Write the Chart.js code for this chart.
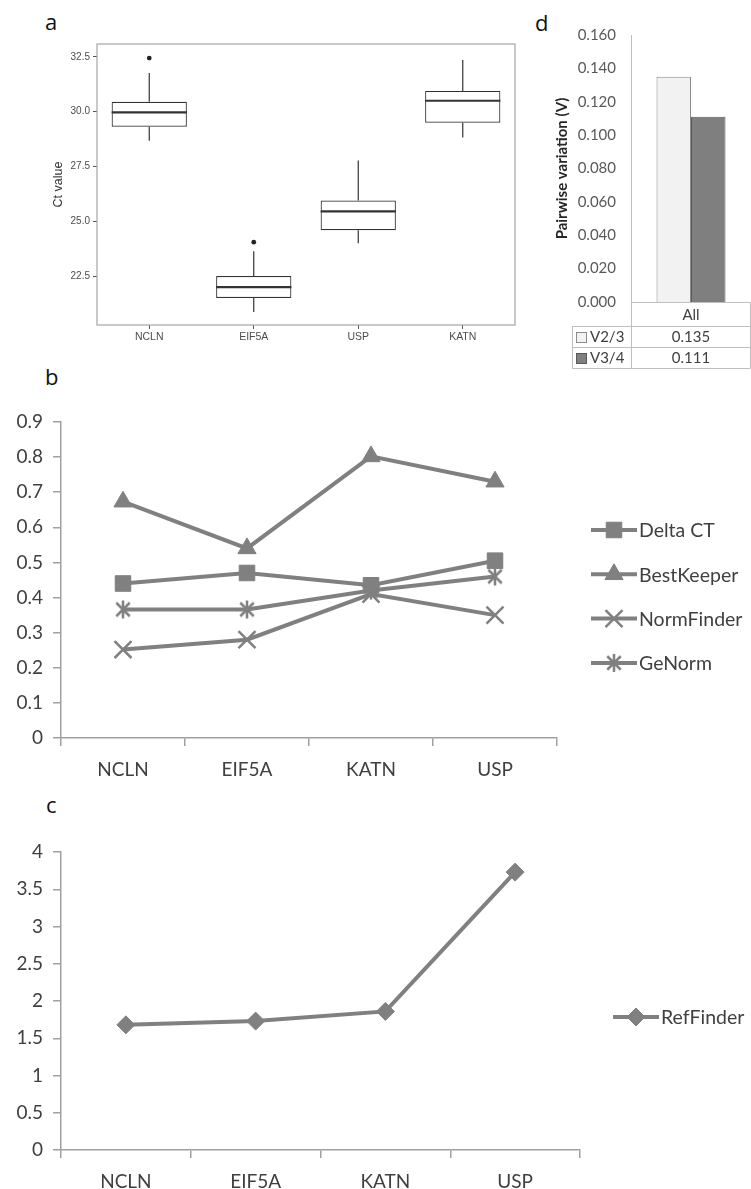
<!DOCTYPE html>
<html>
<head>
<meta charset="utf-8">
<title>Reference gene stability</title>
<script src="https://cdn.jsdelivr.net/npm/chart.js@4.4.1/dist/chart.umd.min.js"></script>
<style>
  body { margin: 0; background: #fff; }
  #page { position: relative; width: 751px; height: 1189px; overflow: hidden; }
  #page canvas { position: absolute; }
  .tag { position: absolute; font-family: 'Open Sans', sans-serif; font-size: 22px; line-height: 22px; color: #111; }
</style>
</head>
<body>
<div id="page">
  <div class="tag" style="left:45px; top:10px;">a</div>
  <div class="tag" style="left:535px; top:11px;">d</div>
  <div class="tag" style="left:45px; top:365px;">b</div>
  <div class="tag" style="left:46px; top:793px;">c</div>
  <canvas id="boxChart" width="500" height="325" style="left:30px; top:30px; width:500px; height:325px;"></canvas>
  <canvas id="pairChart" width="231" height="380" style="left:520px; top:0px; width:231px; height:380px;"></canvas>
  <canvas id="rankChart" width="751" height="410" style="left:0px; top:380px; width:751px; height:410px;"></canvas>
  <canvas id="refChart" width="751" height="399" style="left:0px; top:790px; width:751px; height:399px;"></canvas>
</div>
<script>
// panel a - Ct values (box plot)
var boxCategories = ['NCLN', 'EIF5A', 'USP', 'KATN'];
var boxMin = [28.68, 20.86, 24.0, 28.82];
var boxQ1 = [29.32, 21.5, 24.59, 29.5];
var boxMedian = [29.97, 22.0, 25.45, 30.5];
var boxQ3 = [30.45, 22.5, 25.95, 30.95];
var boxMax = [31.77, 23.64, 27.77, 32.36];
var boxOutliers = [32.45, 24.05, null, null];
var ctTicks = [22.5, 25.0, 27.5, 30.0, 32.5];

// panel d - pairwise variation
var pairCategories = ['All'];
var v23 = [0.135];
var v34 = [0.111];

// panel b - stability values per method
var genes = ['NCLN', 'EIF5A', 'KATN', 'USP'];
var deltaCT = [0.44, 0.47, 0.435, 0.505];
var bestKeeper = [0.673, 0.54, 0.802, 0.73];
var normFinder = [0.252, 0.28, 0.41, 0.35];
var geNorm = [0.366, 0.366, 0.42, 0.46];

// panel c - RefFinder comprehensive ranking
var refFinder = [1.68, 1.73, 1.86, 3.73];

var grey = '#808080';
var axisGrey = '#a0a0a0';
var textGrey = '#404040';
var officeFont = 'Lato, "Open Sans", sans-serif';

Chart.defaults.animation = false;
Chart.defaults.responsive = false;
Chart.defaults.devicePixelRatio = 1;

// asterisk marker (X with a vertical stroke) like the excel one
function asteriskMarker(size, color) {
  var c = document.createElement('canvas');
  c.width = size; c.height = size;
  var g = c.getContext('2d');
  var m = size / 2, r = size / 2 - 2;
  g.strokeStyle = color;
  g.lineWidth = 2.5;
  g.beginPath();
  g.moveTo(m - r * 0.75, m - r * 0.75); g.lineTo(m + r * 0.75, m + r * 0.75);
  g.moveTo(m + r * 0.75, m - r * 0.75); g.lineTo(m - r * 0.75, m + r * 0.75);
  g.moveTo(m, m - r); g.lineTo(m, m + r);
  g.stroke();
  return c;
}
var asterisk = asteriskMarker(22, grey);

function fmtTick(v) {
  return String(Math.round(v * 10) / 10);
}

// legend drawn like excel: a short line with the marker on it
function lineLegend(offsetX, offsetY, step) {
  return {
    id: 'lineLegend',
    afterDraw: function (chart) {
      var ctx = chart.ctx, area = chart.chartArea;
      var x0 = area.right + offsetX;
      chart.data.datasets.forEach(function (ds, i) {
        var y = area.top + offsetY + i * step;
        ctx.save();
        ctx.strokeStyle = ds.borderColor;
        ctx.lineWidth = ds.borderWidth;
        ctx.beginPath();
        ctx.moveTo(x0, y);
        ctx.lineTo(x0 + 46, y);
        ctx.stroke();
        ctx.fillStyle = ds.pointBackgroundColor;
        ctx.strokeStyle = ds.pointBorderColor;
        ctx.lineWidth = ds.pointBorderWidth;
        Chart.helpers.drawPoint(ctx, {
          pointStyle: ds.pointStyle,
          radius: ds.pointRadius,
          borderWidth: ds.pointBorderWidth,
          rotation: 0
        }, x0 + 23, y);
        ctx.fillStyle = textGrey;
        ctx.font = '19.5px ' + officeFont;
        ctx.textBaseline = 'middle';
        ctx.textAlign = 'left';
        ctx.fillText(ds.label, x0 + 48, y + 1);
        ctx.restore();
      });
    }
  };
}

//chart a
var boxParts = {
  id: 'boxParts',
  afterDatasetsDraw: function (chart) {
    var ctx = chart.ctx, xs = chart.scales.x, ys = chart.scales.y;
    var bars = chart.getDatasetMeta(0).data;
    ctx.save();
    ctx.strokeStyle = '#333';
    ctx.lineWidth = 1.2;
    boxCategories.forEach(function (c, i) {
      var x = xs.getPixelForValue(i);
      ctx.beginPath();
      ctx.moveTo(x, ys.getPixelForValue(boxQ3[i]));
      ctx.lineTo(x, ys.getPixelForValue(boxMax[i]));
      ctx.moveTo(x, ys.getPixelForValue(boxQ1[i]));
      ctx.lineTo(x, ys.getPixelForValue(boxMin[i]));
      ctx.stroke();
    });
    ctx.lineWidth = 2.2;
    boxCategories.forEach(function (c, i) {
      var half = bars[i].width / 2;
      var x = xs.getPixelForValue(i);
      var y = ys.getPixelForValue(boxMedian[i]);
      ctx.beginPath();
      ctx.moveTo(x - half, y);
      ctx.lineTo(x + half, y);
      ctx.stroke();
    });
    ctx.restore();
  },
  afterDraw: function (chart) {
    var a = chart.chartArea, ctx = chart.ctx;
    ctx.save();
    ctx.strokeStyle = '#a6a6a6';
    ctx.lineWidth = 1.2;
    ctx.strokeRect(a.left, a.top, a.right - a.left, a.bottom - a.top);
    ctx.restore();
  }
};

new Chart(document.getElementById('boxChart'), {
  type: 'bar',
  data: {
    labels: boxCategories,
    datasets: [{
      label: 'IQR',
      data: boxCategories.map(function (c, i) { return [boxQ1[i], boxQ3[i]]; }),
      backgroundColor: '#fff',
      borderColor: '#333',
      borderWidth: 1.2,
      borderSkipped: false,
      barPercentage: 0.72,
      categoryPercentage: 1
    }, {
      type: 'line',
      label: 'outliers',
      data: boxOutliers,
      showLine: false,
      pointRadius: 2.4,
      pointBackgroundColor: '#222',
      pointBorderWidth: 0
    }]
  },
  options: {
    layout: { padding: { top: 14, right: 15, left: 0, bottom: 0 } },
    plugins: { legend: { display: false }, tooltip: { enabled: false } },
    scales: {
      x: {
        grid: { drawOnChartArea: false, drawTicks: true, tickLength: 4, color: '#555', offset: false },
        border: { display: false },
        ticks: { padding: 2, color: '#4d4d4d', font: { family: 'Liberation Sans', size: 10.5 } },
        afterFit: function (s) { s.height = 30; }
      },
      y: {
        min: 20.27,
        max: 33.09,
        afterBuildTicks: function (s) { s.ticks = ctTicks.map(function (v) { return { value: v }; }); },
        grid: { drawOnChartArea: false, drawTicks: true, tickLength: 4, color: '#555' },
        border: { display: false },
        ticks: {
          padding: 3,
          color: '#4d4d4d',
          font: { family: 'Liberation Sans', size: 10 },
          callback: function (v) { return v.toFixed(1); }
        },
        title: {
          display: true,
          text: 'Ct value',
          color: '#333',
          padding: { top: 21, bottom: 0 },
          font: { family: 'Liberation Sans', size: 12.5 }
        },
        afterFit: function (s) { s.width = 67; }
      }
    }
  },
  plugins: [boxParts]
});

//chart d
var pairTable = {
  id: 'pairTable',
  afterDraw: function (chart) {
    var ctx = chart.ctx, a = chart.chartArea, xs = chart.scales.x;
    var rows = [a.bottom, a.bottom + 24, a.bottom + 45, a.bottom + 66];
    var keyLeft = a.left - 59;
    var right = a.right - 0.5;
    ctx.save();
    ctx.strokeStyle = '#bfbfbf';
    ctx.lineWidth = 1;
    ctx.beginPath();
    ctx.moveTo(a.left, rows[0] + 0.5); ctx.lineTo(right, rows[0] + 0.5);
    [1, 2, 3].forEach(function (r) {
      ctx.moveTo(keyLeft, rows[r] + 0.5); ctx.lineTo(right, rows[r] + 0.5);
    });
    ctx.moveTo(a.left + 0.5, rows[0]); ctx.lineTo(a.left + 0.5, rows[3]);
    ctx.moveTo(keyLeft + 0.5, rows[1]); ctx.lineTo(keyLeft + 0.5, rows[3]);
    ctx.moveTo(right, rows[0]); ctx.lineTo(right, rows[3]);
    ctx.stroke();

    ctx.fillStyle = textGrey;
    ctx.textBaseline = 'middle';
    ctx.textAlign = 'center';
    ctx.font = '15px ' + officeFont;
    pairCategories.forEach(function (c, i) {
      ctx.fillText(c, xs.getPixelForValue(i), (rows[0] + rows[1]) / 2 + 1);
    });
    chart.data.datasets.forEach(function (ds, d) {
      var y = (rows[d + 1] + rows[d + 2]) / 2 + 1;
      ctx.textAlign = 'center';
      ctx.fillStyle = textGrey;
      ctx.font = '15px ' + officeFont;
      ds.data.forEach(function (v, i) {
        ctx.fillText(v.toFixed(3), xs.getPixelForValue(i), y);
      });
      ctx.fillStyle = ds.backgroundColor;
      ctx.fillRect(keyLeft + 4, y - 5.5, 10, 10);
      ctx.strokeStyle = ds.borderColor;
      ctx.strokeRect(keyLeft + 4.5, y - 5, 10, 10);
      ctx.fillStyle = textGrey;
      ctx.textAlign = 'left';
      ctx.fillText(ds.label, keyLeft + 18, y);
    });
    ctx.restore();
  }
};

new Chart(document.getElementById('pairChart'), {
  type: 'bar',
  data: {
    labels: pairCategories,
    datasets: [{
      label: 'V2/3',
      data: v23,
      backgroundColor: '#f2f2f2',
      borderColor: '#8c8c8c',
      borderWidth: 1,
      borderSkipped: 'bottom'
    }, {
      label: 'V3/4',
      data: v34,
      backgroundColor: '#7f7f7f',
      borderColor: '#595959',
      borderWidth: 1,
      borderSkipped: 'bottom'
    }]
  },
  options: {
    layout: { padding: { top: 35, right: 0, left: 0, bottom: 78 } },
    plugins: { legend: { display: false }, tooltip: { enabled: false } },
    datasets: { bar: { categoryPercentage: 0.575, barPercentage: 1 } },
    scales: {
      x: { display: false },
      y: {
        min: 0,
        max: 0.16,
        ticks: {
          stepSize: 0.02,
          padding: 15,
          color: '#595959',
          font: { family: officeFont, size: 15 },
          callback: function (v) { return v.toFixed(3); }
        },
        grid: { display: false, drawTicks: false },
        border: { display: true, color: '#bfbfbf', width: 1 },
        title: {
          display: true,
          text: 'Pairwise variation (V)',
          color: '#262626',
          padding: { top: 33, bottom: 0 },
          font: { family: officeFont, size: 15, weight: 'bold' }
        },
        afterFit: function (s) { s.width = 111; }
      }
    }
  },
  plugins: [pairTable]
});

//chart b
function methodSet(label, values, style, radius, borderWidth) {
  return {
    label: label,
    data: values,
    borderColor: grey,
    borderWidth: 4,
    pointStyle: style,
    pointRadius: radius,
    pointBackgroundColor: grey,
    pointBorderColor: grey,
    pointBorderWidth: borderWidth,
    tension: 0
  };
}

function excelScales(yMax, yStep, xHeight, fontSize) {
  return {
    x: {
      offset: true,
      grid: { offset: true, drawOnChartArea: false, drawTicks: true, tickLength: 8, color: axisGrey, lineWidth: 1.5 },
      border: { color: axisGrey, width: 1.5 },
      ticks: { padding: 12, color: textGrey, font: { family: officeFont, size: fontSize } },
      afterFit: function (s) { s.height = xHeight; }
    },
    y: {
      min: 0,
      max: yMax,
      ticks: { stepSize: yStep, padding: 10, color: textGrey, font: { family: officeFont, size: fontSize }, callback: fmtTick },
      grid: { drawOnChartArea: false, drawTicks: true, tickLength: 8, color: axisGrey, lineWidth: 1.5 },
      border: { color: axisGrey, width: 1.5 },
      afterFit: function (s) { s.width = 61; }
    }
  };
}

new Chart(document.getElementById('rankChart'), {
  type: 'line',
  data: {
    labels: genes,
    datasets: [
      methodSet('Delta CT', deltaCT, 'rect', 11, 1),
      methodSet('BestKeeper', bestKeeper, 'triangle', 10.5, 1),
      methodSet('NormFinder', normFinder, 'crossRot', 12, 2.5),
      methodSet('GeNorm', geNorm, asterisk, 11, 1)
    ]
  },
  options: {
    layout: { padding: { top: 42, right: 194, left: 0, bottom: 0 } },
    plugins: { legend: { display: false }, tooltip: { enabled: false } },
    scales: excelScales(0.9, 0.1, 52, 19)
  },
  plugins: [lineLegend(34, 108, 44.3)]
});

//chart c
new Chart(document.getElementById('refChart'), {
  type: 'line',
  data: {
    labels: genes,
    datasets: [
      methodSet('RefFinder', refFinder, 'rectRot', 9, 1)
    ]
  },
  options: {
    layout: { padding: { top: 62, right: 171, left: 0, bottom: 0 } },
    plugins: { legend: { display: false }, tooltip: { enabled: false } },
    scales: excelScales(4, 0.5, 39, 19)
  },
  plugins: [lineLegend(33, 165, 0)]
});
</script>
</body>
</html>
